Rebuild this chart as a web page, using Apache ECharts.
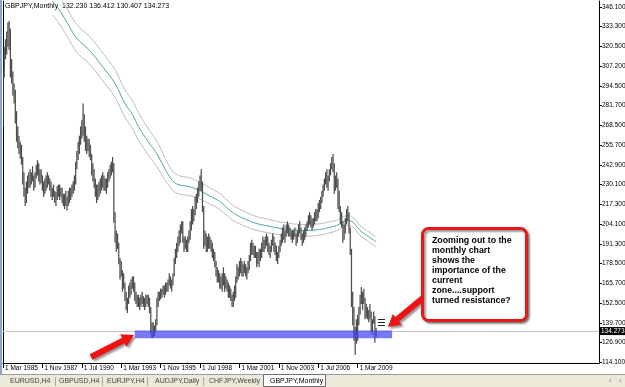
<!DOCTYPE html>
<html>
<head>
<meta charset="utf-8">
<script src="https://cdn.jsdelivr.net/npm/echarts@6/dist/echarts.min.js"></script>
<style>
  html, body { margin: 0; padding: 0; background: #fff; }
  #chart { width: 625px; height: 387px; }
</style>
</head>
<body>
<div id="chart"></div>
<script>
// monthly bars, Mar 1985 .. Jun 2010 (low / high)
const monthLows = [
  268, 300, 312, 315, 320, 318, 300, 296, 288, 283,
  270, 258, 254, 250, 247, 243, 230, 222, 216, 218, 224, 228,
  228, 230, 232, 226, 228, 234, 236, 232, 230, 231, 226, 222,
  224, 226, 228, 230, 226, 222, 220, 222, 218, 216, 220, 222,
  220, 222, 218, 216, 214, 216, 213, 216, 218, 220, 222, 224,
  226, 230, 240, 246, 250, 256, 260, 262, 258, 252, 250, 252,
  248, 246, 236, 232, 228, 222, 218, 220, 222, 224, 226, 228,
  226, 226, 224, 228, 232, 234, 236, 238, 205, 192, 186, 188,
  178, 168, 170, 160, 162, 154, 148, 146, 152, 156, 158, 162,
  160, 154, 152, 150, 150, 148, 150, 152, 150, 148, 150, 152,
  150, 146, 132, 129.5, 130, 131, 134, 138, 150, 154, 155, 156,
  158, 156, 158, 160, 160, 164, 162, 160, 164, 170, 178, 182,
  186, 190, 192, 198, 192, 186, 188, 186, 186, 192, 194, 200,
  204, 206, 210, 214, 218, 222, 226, 226, 212, 188, 190, 186,
  186, 188, 188, 186, 182, 180, 176, 170, 166, 166, 162, 162,
  160, 164, 160, 162, 160, 156, 156, 154, 150, 150, 154, 156,
  166, 168, 170, 172, 170, 170, 172, 170, 168, 172, 174, 180,
  184, 184, 182, 182, 176, 178, 176, 180, 182, 186, 186, 188,
  190, 186, 184, 182, 186, 190, 186, 184, 180, 178, 182, 186,
  190, 192, 194, 192, 196, 198, 196, 196, 194, 192, 194, 196,
  190, 192, 196, 198, 194, 190, 192, 194, 196, 200, 202, 204,
  202, 200, 202, 204, 206, 206, 208, 212, 214, 218, 222, 226,
  230, 228, 226, 232, 236, 240, 238, 224, 226, 228, 214, 212,
  204, 202, 192, 194, 198, 204, 206, 198, 184, 150, 138, 128,
  118.8, 126, 128, 138, 145, 152, 148, 152, 142, 143, 142, 140,
  142, 134, 132, 139, 126.7, 130.407
];
const monthHighs = [
  305, 320, 325, 330, 336, 337, 332, 312, 304, 296,
  292, 278, 268, 262, 258, 256, 248, 238, 228, 232, 236, 238,
  240, 238, 242, 236, 238, 243, 246, 244, 240, 240, 236, 232,
  234, 236, 238, 236, 234, 232, 228, 230, 226, 225, 229, 230,
  230, 228, 228, 224, 224, 226, 222, 226, 228, 228, 230, 232,
  236, 245, 252, 258, 262, 268, 272, 283, 276, 268, 262, 260,
  260, 256, 250, 244, 240, 234, 230, 230, 232, 234, 236, 238,
  236, 234, 234, 238, 240, 243, 245, 248, 244, 212, 200, 198,
  192, 182, 180, 174, 172, 166, 160, 156, 164, 166, 168, 170,
  170, 166, 160, 158, 158, 156, 158, 160, 157, 156, 158, 158,
  158, 156, 150, 140, 140, 138, 142, 156, 160, 160, 162, 162,
  164, 164, 166, 166, 168, 172, 170, 168, 172, 182, 188, 192,
  196, 200, 204, 206, 206, 196, 196, 194, 196, 200, 206, 214,
  216, 214, 222, 224, 228, 232, 236, 240, 232, 216, 200, 198,
  196, 198, 196, 194, 192, 188, 186, 180, 176, 174, 172, 170,
  172, 176, 172, 170, 168, 166, 164, 162, 158, 160, 164, 170,
  178, 176, 180, 182, 180, 178, 180, 178, 176, 180, 184, 192,
  194, 192, 190, 190, 186, 186, 188, 188, 192, 196, 194, 196,
  198, 196, 192, 190, 194, 198, 196, 192, 190, 186, 190, 194,
  198, 202, 204, 200, 204, 206, 204, 202, 200, 200, 200, 202,
  198, 200, 204, 206, 202, 198, 200, 202, 204, 206, 210, 212,
  210, 208, 208, 212, 214, 214, 218, 220, 222, 226, 230, 234,
  238, 240, 236, 240, 244, 248, 250, 244, 236, 238, 234, 226,
  216, 212, 206, 204, 208, 214, 216, 212, 202, 188, 160, 150,
  137, 142, 145, 150, 158, 163, 160, 162, 156, 152, 150, 148,
  152, 147, 142, 147, 144, 136.412
];
const lastBarOHLC = [132.230, 136.412, 130.407, 134.273];

// moving-average band, sampled at month indexes
const maMonths = [40, 45, 52, 60, 70, 80, 91, 99, 105, 110, 118, 125, 135, 141, 152, 160, 168,
  176, 183, 190, 198, 206, 215, 225, 235, 244, 257, 265, 271, 279, 283, 290, 296, 303];
const maMid = [350, 345, 336, 325.5, 318, 308, 296, 283, 276, 268, 258, 250, 235.5, 230.5, 228.5, 226, 222.5,
  219, 214, 210, 207, 204.6, 203, 201.4, 200.4, 200, 200.7, 202, 203.3, 206.5, 206, 200, 196.5, 192.6];
const maUpper = [359, 354, 345, 334.5, 327, 317, 305, 292, 285, 277, 266.5, 258.4, 242, 236.5, 234.3, 231.5, 227.8,
  224.2, 219, 214.8, 211.7, 209.1, 207.4, 205.6, 204.4, 203.9, 204.4, 205.6, 206.7, 209.7, 209.2, 203.2, 199.7, 195.8];
const maLower = [341, 336, 327, 316.5, 309, 299, 287, 274, 267, 259, 249.5, 241.6, 229, 224.5, 222.7, 220.5, 217.2,
  213.8, 209, 205.2, 202.3, 200.1, 198.6, 197.2, 196.4, 196.1, 197, 198.4, 199.9, 203.3, 202.8, 196.8, 193.3, 189.4];

const yTickLabels = [114.1, 126.9, 139.7, 152.5, 165.7, 178.5, 191.3, 204.1, 217.3, 230.1,
  242.9, 255.7, 268.5, 281.7, 294.5, 307.2, 320.5, 333.3, 346.1];
const xTickLabels = ['1 Mar 1985', '1 Nov 1987', '1 Jul 1990', '1 Mar 1993', '1 Nov 1995',
  '1 Jul 1998', '1 Mar 2001', '1 Nov 2003', '1 Jul 2006', '1 Mar 2009'];

const zoneMonths = ['1 Feb 1994', '1 Jul 2011'];
const zonePrices = [129.6, 134.6];

const tabNames = ['EURUSD,H4', 'GBPUSD,H4', 'EURJPY,H4', 'AUDJPY,Daily', 'CHFJPY,Weekly', 'GBPJPY,Monthly'];
const calloutLines = ['Zooming out to the', 'monthly chart', 'shows the', 'importance of the',
  'current', 'zone....support', 'turned resistance?'];

const FONT = '"Liberation Sans", Arial, sans-serif';
const monthNames = ['Jan', 'Feb', 'Mar', 'Apr', 'May', 'Jun', 'Jul', 'Aug', 'Sep', 'Oct', 'Nov', 'Dec'];
const totalSlots = 485;
const categories = [];
for (let i = 0; i < totalSlots; i++) {
  const m = 2 + i;
  categories.push('1 ' + monthNames[m % 12] + ' ' + (1985 + Math.floor(m / 12)));
}

const bars = monthLows.map((lo, i) => [i, lo, monthHighs[i]]);
const pairs = (vals) => maMonths.map((m, i) => [m, vals[i]]);
const showTick = (idx, val) => xTickLabels.indexOf(val) >= 0;

function arrowPoints(x1, y1, x2, y2, shaft, head, headLen) {
  const dx = x2 - x1, dy = y2 - y1, len = Math.hypot(dx, dy);
  const ux = dx / len, uy = dy / len, nx = -uy, ny = ux;
  const bx = x2 - ux * headLen, by = y2 - uy * headLen;
  return [
    [x1 + nx * shaft / 2, y1 + ny * shaft / 2],
    [bx + nx * shaft / 2, by + ny * shaft / 2],
    [bx + nx * head / 2, by + ny * head / 2],
    [x2, y2],
    [bx - nx * head / 2, by - ny * head / 2],
    [bx - nx * shaft / 2, by - ny * shaft / 2],
    [x1 - nx * shaft / 2, y1 - ny * shaft / 2]
  ];
}

const redShadow = { shadowBlur: 2, shadowOffsetX: 2, shadowOffsetY: 2, shadowColor: 'rgba(0,0,0,0.4)' };
const tabX = [10, 59, 107, 155, 209, 270];
const tabSeps = [55, 102, 147, 203];

const graphics = [
  { type: 'rect', shape: { x: 0, y: 0, width: 2, height: 374 }, style: { fill: '#8fa3cc' } },
  { type: 'rect', shape: { x: 0, y: 374, width: 625, height: 13 }, style: { fill: '#ece9d8' } },
  { type: 'line', shape: { x1: 0, y1: 374.5, x2: 625, y2: 374.5 }, style: { stroke: '#9d9d9d', lineWidth: 1 } },
  { type: 'rect', shape: { x: 263.5, y: 374.5, width: 62, height: 12 }, style: { fill: '#fff', stroke: '#6f6f6f', lineWidth: 1 } },
  { type: 'text', x: 5, y: 6, style: { text: 'GBPJPY,Monthly  ' + lastBarOHLC.map(v => v.toFixed(3)).join(' '),
    font: '7px ' + FONT, fill: '#000', verticalAlign: 'middle' } },
  { type: 'text', x: 609, y: 381, style: { text: '‹', font: '8px ' + FONT, fill: '#888', verticalAlign: 'middle' } },
  { type: 'text', x: 619, y: 381, style: { text: '›', font: '8px ' + FONT, fill: '#888', verticalAlign: 'middle' } },
  { type: 'polygon', shape: { points: arrowPoints(91, 357, 134, 335, 6, 14, 12) }, style: Object.assign({ fill: '#ee1414' }, redShadow) },
  { type: 'polygon', shape: { points: arrowPoints(424, 297, 388, 327, 6, 14, 12) }, style: Object.assign({ fill: '#ee1414' }, redShadow) },
  { type: 'rect', shape: { x: 422.5, y: 228.5, width: 104, height: 92, r: 6 },
    style: Object.assign({ fill: '#fff', stroke: '#e81818', lineWidth: 3 }, redShadow) },
  { type: 'text', x: 432, y: 236, style: { text: calloutLines.join('\n'), font: 'bold 8.8px ' + FONT,
    lineHeight: 10, fill: '#000' } },
  { type: 'line', shape: { x1: 378, y1: 319.5, x2: 385, y2: 319.5 }, style: { stroke: '#222', lineWidth: 1 } },
  { type: 'line', shape: { x1: 378, y1: 322.5, x2: 385, y2: 322.5 }, style: { stroke: '#222', lineWidth: 1 } },
  { type: 'line', shape: { x1: 378, y1: 325.5, x2: 385, y2: 325.5 }, style: { stroke: '#222', lineWidth: 1 } }
];
tabNames.forEach((name, i) => {
  graphics.push({ type: 'text', x: tabX[i], y: 381, style: { text: name, font: '7px ' + FONT,
    fill: i === tabNames.length - 1 ? '#000' : '#444', verticalAlign: 'middle' } });
});
tabSeps.forEach((x) => {
  graphics.push({ type: 'line', shape: { x1: x + 0.5, y1: 377, x2: x + 0.5, y2: 386 }, style: { stroke: '#aca899', lineWidth: 1 } });
});

const chart = echarts.init(document.getElementById('chart'));
const option = {
  animation: false,
  backgroundColor: '#fff',
  grid: { left: 3, right: 26, top: 1, bottom: 24, outerBoundsMode: 'none' },
  xAxis: {
    type: 'category',
    data: categories,
    boundaryGap: false,
    axisLine: { lineStyle: { color: '#000', width: 1 } },
    axisTick: { interval: showTick, length: 5, lineStyle: { color: '#000' } },
    axisLabel: { interval: showTick, align: 'left', margin: 2, padding: [0, 0, 0, 2],
      fontSize: 6.5, fontFamily: FONT, color: '#000' },
    splitLine: { show: false }
  },
  yAxis: [{
    type: 'value', position: 'right', min: 113.4, max: 350,
    axisLine: { show: true, lineStyle: { color: '#000' } },
    axisTick: { show: true, customValues: yTickLabels, length: 3, lineStyle: { color: '#000' } },
    axisLabel: { customValues: yTickLabels, formatter: (v) => v.toFixed(3), fontSize: 6.5,
      fontFamily: FONT, color: '#000', margin: 3 },
    splitLine: { show: false }
  }, {
    type: 'value', position: 'left', min: 113.4, max: 350,
    axisLine: { show: true, lineStyle: { color: '#000' } },
    axisTick: { show: false }, axisLabel: { show: false }, splitLine: { show: false }
  }],
  series: [
    { type: 'line', data: pairs(maUpper), symbol: 'none', smooth: 0.4, z: 1,
      lineStyle: { color: '#bdbdbd', width: 1 } },
    { type: 'line', data: pairs(maLower), symbol: 'none', smooth: 0.4, z: 1,
      lineStyle: { color: '#bdbdbd', width: 1 } },
    { type: 'line', data: pairs(maMid), symbol: 'none', smooth: 0.4, z: 1,
      lineStyle: { color: '#4fa5a8', width: 1 } },
    {
      type: 'custom', data: bars, z: 2, clip: true,
      encode: { x: 0, y: [1, 2] },
      renderItem: (params, api) => {
        const lo = api.coord([api.value(0), api.value(1)]);
        const hi = api.coord([api.value(0), api.value(2)]);
        return { type: 'line', shape: { x1: lo[0], y1: lo[1], x2: hi[0], y2: hi[1] },
          style: { stroke: '#4d4d4d', lineWidth: 1.25 } };
      },
      markLine: {
        silent: true, symbol: 'none', z: 1,
        lineStyle: { color: '#c4c4c4', type: 'solid', width: 1 },
        label: { show: true, position: 'end', distance: 1, formatter: lastBarOHLC[3].toFixed(3),
          color: '#fff', backgroundColor: '#000', fontSize: 6.5, fontFamily: FONT, padding: [1, 2, 0, 1] },
        data: [{ yAxis: lastBarOHLC[3] }]
      }
    },
    {
      type: 'line', data: [], z: 5,
      markArea: {
        silent: true, z: 5,
        itemStyle: { color: 'rgba(64,64,240,0.7)' },
        data: [[{ xAxis: zoneMonths[0], yAxis: zonePrices[1] }, { xAxis: zoneMonths[1], yAxis: zonePrices[0] }]]
      }
    }
  ],
  graphic: { elements: graphics }
};
chart.setOption(option);
window.addEventListener('resize', chart.resize);
</script>
</body>
</html>
